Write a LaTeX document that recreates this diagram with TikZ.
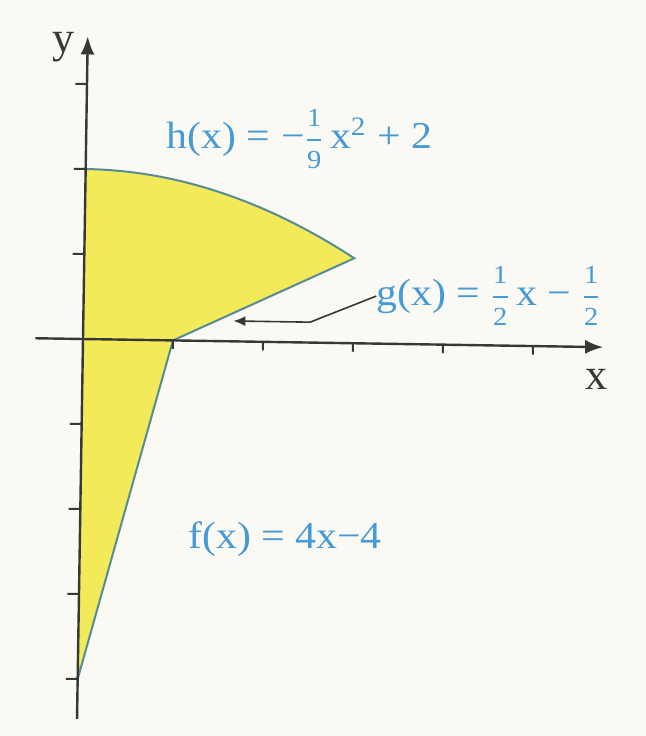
\documentclass[tikz,border=0pt]{standalone}
\usepackage{amsmath}
\usepackage{fontspec}
\setmainfont{Liberation Serif}
\newfontfamily\lblfont[FakeStretch=1.1]{Liberation Serif}
\usetikzlibrary{arrows.meta}
\definecolor{bgc}{RGB}{250,249,243}
\definecolor{fillc}{RGB}{242,234,88}
\definecolor{edgec}{RGB}{85,140,150}
\definecolor{txtc}{RGB}{70,155,215}
\definecolor{axc}{RGB}{55,55,55}
\newcommand{\numtop}[1]{\hbox{\lblfont\fontsize{13}{13}\selectfont #1\rule[-5pt]{0pt}{5pt}}}
\newcommand{\numbot}[1]{\hbox{\lblfont\fontsize{13}{13}\selectfont\rule{0pt}{13pt}#1}}
\newcommand{\fr}[2]{\ensuremath{\genfrac{}{}{0.9pt}{}{\numtop{#1}}{\numbot{#2}}}}
\tikzset{
  lbl/.style={text=txtc, inner sep=0pt, font=\lblfont\fontsize{19}{22}\selectfont},
  axlbl/.style={text=axc, inner sep=0pt, font=\fontsize{22}{24}\selectfont},
  axisline/.style={draw=axc, line width=1.2pt},
  tickline/.style={draw=axc, line width=1pt},
  edge/.style={draw=edgec, line width=1pt},
  pointer/.style={draw=axc, line width=0.8pt, -{Latex[length=6pt,width=5pt]}}
}
\begin{document}
\begin{tikzpicture}[x=45pt,y=42.5pt]
\fill[bgc] (-41.5pt,-198.5pt) rectangle (281.5pt,169.5pt);
\useasboundingbox (-41.5pt,-198.5pt) rectangle (281.5pt,169.5pt);
\begin{scope}[rotate=-0.9]
  % region
  \fill[fillc] (0,2) -- plot[domain=0:3,samples=40] (\x,{-\x*\x/9+2}) -- (1,0) -- (0,-4) -- cycle;
  \draw[edge] plot[domain=0:3,samples=40] (\x,{-\x*\x/9+2}) -- (1,0) -- (0,-4);
  % axes
  \draw[axisline, -{Latex[length=9pt,width=7pt]}] (-0.53,0) -- (5.78,0);
  \draw[axisline, -{Latex[length=9pt,width=7pt]}] (0,-4.47) -- (0,3.56);
  \foreach \yy in {3,2,1,-1,-2,-3,-4} \draw[tickline] (0,\yy) -- ++(-0.13,0);
  \foreach \xx in {1,2,3,4,5} \draw[tickline] (\xx,0) -- ++(0,-0.1);
  % labels
  \node[axlbl] (yl) at (-0.27,3.43) {y};
  \node[axlbl] (xl) at (5.71,-0.38) {x};
  \node[lbl] (hl) at (2.37,2.39) {h(x) = −\fr{1}{9}\,x\textsuperscript{2} + 2};
  \node[lbl] (gl) at (4.5,0.58) {g(x) = \fr{1}{2}\,x − \fr{1}{2}};
  \node[lbl] (fl) at (2.28,-2.32) {f(x) = 4x−4};
  \coordinate (gbend) at (2.52,0.24);
  \coordinate (gtip) at (1.667,0.24);
  \draw[pointer] (gl.west) -- (gbend) -- (gtip);
\end{scope}
\end{tikzpicture}
\end{document}
